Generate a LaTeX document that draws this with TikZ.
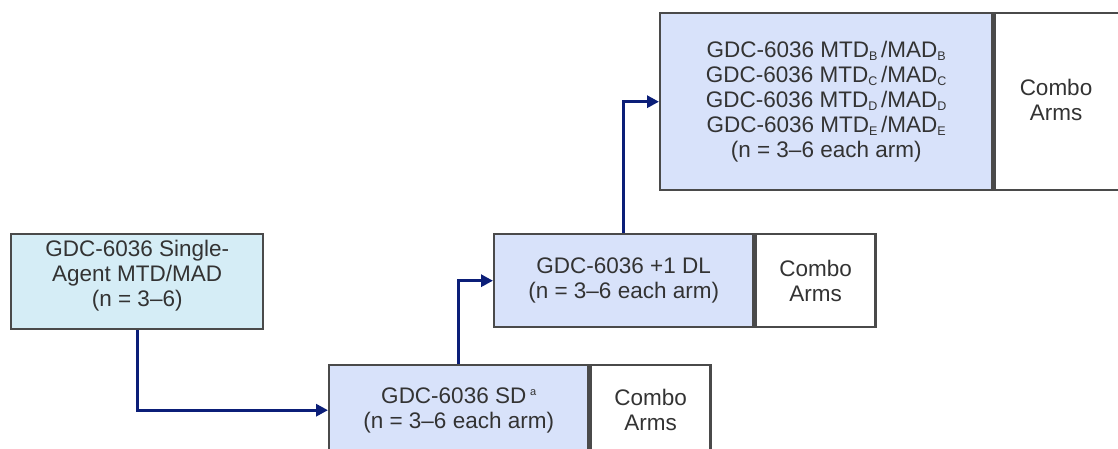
\documentclass[tikz,border=0pt]{standalone}
\usepackage{fontspec}
\setmainfont{Liberation Sans}
\usetikzlibrary{arrows.meta}
\definecolor{cyanfill}{HTML}{D5EDF6}
\definecolor{bluefill}{HTML}{D8E2FA}
\definecolor{navy}{HTML}{0B1E78}
\definecolor{edgegray}{HTML}{4A4A4A}
\definecolor{txt}{HTML}{333333}
\newcommand{\sbs}[1]{\raisebox{-3pt}{\fontsize{12.5}{12.5}\selectfont #1}}
\begin{document}
\begin{tikzpicture}[x=1pt,y=-1pt,
  box/.style={draw=edgegray, line width=2.4pt, inner sep=0pt, align=center,
    font=\fontsize{22.5}{25}\selectfont, text=txt, anchor=north west},
  arr/.style={draw=navy, line width=3pt, -{Triangle[length=12pt,width=12pt]}}]
\useasboundingbox (0,0) rectangle (1118,449);
\clip (0,0) rectangle (1118,449);
% single agent
\node[box, fill=cyanfill, minimum width=252pt, minimum height=95pt] (a) at (10,233)
  {GDC-6036 Single-\\Agent MTD/MAD\\(n = 3--6)\\[-8pt]\mbox{}};
% SD
\node[box, fill=bluefill, minimum width=259pt, minimum height=90pt] (sd) at (328,364)
  {GDC-6036 SD\,\raisebox{8pt}{\fontsize{11}{11}\selectfont a}\\(n = 3--6 each arm)};
\node[box, fill=white, minimum width=120pt, minimum height=90pt] (sdc) at (sd.north east)
  {Combo\\Arms};
% DL
\node[box, fill=bluefill, minimum width=259pt, minimum height=93pt] (dl) at (493,233)
  {GDC-6036 +1 DL\\(n = 3--6 each arm)};
\node[box, fill=white, minimum width=120pt, minimum height=93pt] (dlc) at (dl.north east)
  {Combo\\Arms};
% top
\node[box, fill=bluefill, minimum width=332pt, minimum height=177pt] (tp) at (659,12)
  {GDC-6036 MTD\sbs{B}\,/MAD\sbs{B}\\GDC-6036 MTD\sbs{C}\,/MAD\sbs{C}\\GDC-6036 MTD\sbs{D}\,/MAD\sbs{D}\\GDC-6036 MTD\sbs{E}\,/MAD\sbs{E}\\(n = 3--6 each arm)};
\node[box, fill=white, minimum width=140pt, minimum height=177pt] (tpc) at (tp.north east)
  {};
\node[font=\fontsize{22.5}{25}\selectfont, text=txt, align=center] (tpct) at (1056,100) {Combo\\Arms};
% arrows
\draw[arr] (a.south) |- (sd.west);
\draw[arr] (sd.north) |- (dl.west);
\draw[arr] (dl.north) |- (tp.west);
\end{tikzpicture}
\end{document}
